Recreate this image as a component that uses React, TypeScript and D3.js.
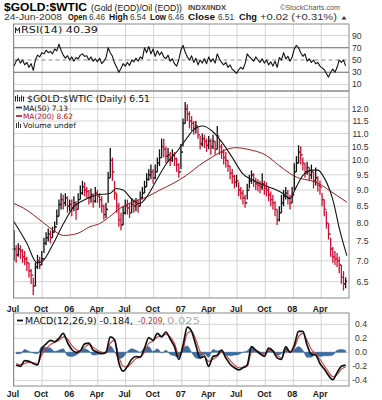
import React from "react";
import * as d3 from "d3";

// ---------- DATA ----------
// Weekly price bars, first week 1-Jul-2005, one value per week
const closes = [
  7.3, 7.15, 7.3, 7.25, 7.1,
  7.05, 6.95, 6.75, 6.65,
  6.4, 6.85, 7.0, 6.9, 7.05,
  7.45, 7.6, 7.7, 7.6,
  7.75, 7.9, 8.2, 8.55,
  8.7, 8.6, 8.75, 8.5, 8.55,
  8.45, 8.6, 8.4, 8.7,
  8.9, 9.1, 9.0, 8.95,
  8.75, 8.85, 8.65, 8.9, 8.8,
  8.7, 8.5, 8.25, 8.4,
  9.4, 10.0, 9.6, 8.9,
  8.5, 8.1, 7.95, 8.3, 8.5,
  8.45, 8.3, 8.55, 8.5,
  8.55, 8.5, 8.75, 8.9,
  9.1, 9.35, 9.5, 9.6, 9.4,
  9.6, 9.9, 10.1, 10.5,
  10.4, 10.15, 10.2, 10.0,
  10.2, 10.05, 9.85, 9.6, 10.3,
  11.4, 12.0, 11.8, 11.5,
  11.4, 11.2, 11.3, 10.95,
  10.6, 10.8, 10.7, 10.55, 10.7,
  10.5, 10.7, 10.4, 10.9,
  10.5, 10.3, 10.1, 10.0,
  9.8, 9.55, 9.45, 9.25, 9.3,
  9.0, 8.9, 8.75, 8.6,
  9.0, 9.3, 9.5, 9.3, 9.2,
  9.15, 9.1, 9.2, 9.05,
  9.0, 8.85, 8.7, 8.6,
  8.4, 8.1, 8.3, 8.6, 8.8,
  8.9, 8.75, 8.6, 8.85,
  9.6, 9.9, 10.3, 10.2,
  9.9, 9.6, 9.75, 9.5, 9.6,
  9.3, 9.4, 9.15, 9.1,
  8.7, 8.4, 8.0, 7.7,
  7.3, 7.1, 7.05, 7.0, 6.9,
  6.6, 6.45, 6.51,
];
const highs = [
  7.8, 7.4, 7.45, 7.4, 7.3,
  7.25, 7.1, 6.95, 6.8,
  6.6, 6.95, 7.15, 7.1, 7.25,
  7.6, 7.75, 7.85, 7.8,
  7.9, 8.05, 8.4, 8.7,
  8.9, 8.85, 8.9, 8.8, 8.7,
  8.7, 8.8, 8.65, 8.9,
  9.15, 9.3, 9.25, 9.1,
  9.0, 9.05, 8.9, 9.1, 9.0,
  8.9, 8.8, 8.55, 8.6,
  9.6, 10.45, 10.1, 9.3,
  8.9, 8.6, 8.3, 8.5, 8.7,
  8.7, 8.6, 8.75, 8.7,
  8.75, 8.7, 8.95, 9.1,
  9.3, 9.55, 9.7, 9.85, 9.7,
  9.85, 10.1, 10.4, 10.8,
  10.8, 10.5, 10.45, 10.3,
  10.4, 10.3, 10.1, 9.9, 10.6,
  11.6, 12.3, 12.2, 11.9,
  11.7, 11.5, 11.5, 11.25,
  10.9, 11.0, 10.95, 10.8, 10.9,
  10.8, 10.95, 10.7, 11.3,
  10.75, 10.6, 10.4, 10.3,
  10.0, 9.8, 9.7, 9.5, 9.5,
  9.25, 9.1, 9.0, 8.85,
  9.2, 9.5, 9.65, 9.55, 9.4,
  9.35, 9.3, 9.55, 9.3,
  9.25, 9.1, 8.95, 8.85,
  8.65, 8.4, 8.5, 8.85, 9.0,
  9.1, 9.0, 8.85, 9.1,
  9.9, 10.15, 10.55, 10.5,
  10.1, 9.9, 9.95, 9.75, 9.85,
  9.6, 9.75, 9.45, 9.3,
  8.9, 8.7, 8.35, 8.0,
  7.6, 7.35, 7.25, 7.2, 7.1,
  6.9, 6.75, 6.6,
];
const lows = [
  7.0, 6.95, 7.1, 7.05, 6.95,
  6.9, 6.75, 6.6, 6.45,
  6.2, 6.4, 6.8, 6.8, 6.9,
  7.2, 7.4, 7.5, 7.45,
  7.6, 7.75, 7.95, 8.2,
  8.4, 8.4, 8.5, 8.3, 8.35,
  8.2, 8.35, 8.1, 8.4,
  8.7, 8.85, 8.8, 8.75,
  8.55, 8.6, 8.45, 8.6, 8.6,
  8.45, 8.3, 8.1, 8.15,
  8.6, 9.4, 9.3, 8.7,
  8.3, 7.9, 7.8, 7.95, 8.25,
  8.25, 8.15, 8.3, 8.3,
  8.35, 8.3, 8.5, 8.7,
  8.9, 9.1, 9.3, 9.35, 9.2,
  9.35, 9.6, 9.8, 10.1,
  10.1, 9.9, 9.95, 9.8,
  9.95, 9.8, 9.6, 9.4, 9.7,
  10.5, 11.4, 11.5, 11.2,
  11.1, 10.95, 11.0, 10.8,
  10.4, 10.5, 10.45, 10.3, 10.4,
  10.2, 10.4, 10.2, 10.4,
  10.2, 10.05, 9.85, 9.75,
  9.6, 9.35, 9.2, 9.05, 9.1,
  8.8, 8.7, 8.55, 8.45,
  8.7, 9.05, 9.2, 9.1, 9.0,
  8.95, 8.9, 9.0, 8.85,
  8.8, 8.65, 8.5, 8.4,
  8.2, 7.95, 8.05, 8.3, 8.5,
  8.7, 8.55, 8.4, 8.6,
  9.0, 9.6, 9.9, 9.85,
  9.65, 9.4, 9.5, 9.3, 9.35,
  9.05, 9.15, 8.95, 8.85,
  8.5, 8.2, 7.85, 7.55,
  7.1, 6.95, 6.9, 6.85, 6.7,
  6.45, 6.3, 6.35,
];

// RSI(14), one value per week
const rsiValues = [
  40, 48, 52, 45, 50, 42, 46, 38, 44, 33,
  50, 58, 55, 62, 60, 66, 62, 64, 60, 68,
  65, 76, 66, 58, 53, 57, 50, 55, 48, 54,
  52, 58, 60, 56, 57, 50, 55, 48, 52, 47,
  53, 44, 48, 54, 70, 62, 56, 45, 38, 30,
  36, 44, 40, 46, 41, 50, 47, 53, 48, 55,
  52, 70, 62, 72, 60, 68, 56, 65, 58, 63,
  55, 52, 58, 48, 52, 44, 40, 50, 66, 74,
  63, 55, 50, 57, 46, 53, 42, 50, 45, 52,
  44, 55, 47, 52, 45, 60, 52, 46, 42, 46,
  38, 42, 35, 32, 28, 34, 38, 35, 44, 60,
  55, 52, 48, 55, 50, 46, 52, 45, 50, 42,
  47, 40, 48, 38, 54, 50, 62, 52, 56, 48,
  55, 68, 74, 70, 62, 56, 60, 48, 52, 46,
  50, 44, 46, 40, 37, 34, 28, 22, 30, 35,
  30, 38, 50, 46, 50, 40.39,
];

// Moving averages
const ma50Dates = [
  "2005-07-01", "2005-08-12", "2005-09-14", "2005-09-30", "2005-11-07", "2005-12-10",
  "2006-01-12", "2006-02-14", "2006-03-28", "2006-05-10", "2006-06-01", "2006-06-23",
  "2006-07-25", "2006-08-16", "2006-09-08", "2006-10-10", "2006-11-12", "2006-12-15",
  "2007-01-17", "2007-02-08", "2007-03-10", "2007-04-12", "2007-05-15", "2007-06-17",
  "2007-07-19", "2007-08-22", "2007-09-24", "2007-10-26", "2007-11-28", "2007-12-20",
  "2008-01-11", "2008-02-02", "2008-03-05", "2008-03-21", "2008-04-12", "2008-05-09",
  "2008-06-01", "2008-06-24",
];
const ma50Values = [
  8.04, 7.45, 6.95, 6.98, 7.45, 7.99,
  8.48, 8.68, 8.84, 8.89, 9.05, 9.0,
  8.68, 8.58, 8.78, 9.32, 9.89, 10.3,
  10.81, 11.14, 11.3, 11.08, 10.62, 10.07,
  9.54, 9.32, 9.16, 9.05, 8.89, 8.73,
  9.11, 9.49, 9.66, 9.66, 9.38, 8.7,
  7.8, 7.13,
];
const ma200Dates = [
  "2005-07-01", "2005-08-12", "2005-09-24", "2005-11-07", "2005-12-10", "2006-01-23",
  "2006-03-06", "2006-04-07", "2006-05-10", "2006-06-12", "2006-07-25", "2006-09-08",
  "2006-10-21", "2006-12-03", "2007-01-17", "2007-02-28", "2007-04-12", "2007-05-26",
  "2007-06-27", "2007-08-09", "2007-10-02", "2007-11-14", "2007-12-20", "2008-01-22",
  "2008-02-22", "2008-03-24", "2008-04-26", "2008-06-24",
];
const ma200Values = [
  8.58, 8.38, 8.09, 7.8, 7.66, 7.71,
  7.9, 7.99, 8.19, 8.43, 8.63, 8.78,
  9.0, 9.21, 9.49, 9.83, 10.13, 10.39,
  10.46, 10.39, 10.19, 9.83, 9.55, 9.38,
  9.32, 9.21, 9.0, 8.62,
];

// MACD(12,26,9), one value every two weeks
const macdValues = [
  -0.18, -0.2, -0.12, -0.13, -0.16, -0.18, 0.05, 0.12, 0.17, 0.15,
  0.2, 0.27, 0.14, 0.04, 0.0, 0.02, 0.12, 0.13, 0.03, 0.0,
  -0.02, 0.0, 0.22, 0.18, -0.15, -0.27, -0.2, -0.1, -0.06, -0.07,
  0.06, 0.21, 0.17, 0.27, 0.22, 0.29, 0.19, 0.08, -0.1, 0.1,
  0.36, 0.3, 0.1, -0.08, -0.06, -0.2, -0.06, -0.04, 0.03, -0.08,
  -0.17, -0.22, -0.25, -0.22, -0.18, 0.08, 0.03, -0.02, -0.06, 0.06,
  0.02, -0.08, -0.1, 0.08, 0.0, 0.1, 0.3, 0.3, 0.1, -0.03,
  -0.04, -0.16, -0.24, -0.33, -0.39, -0.29, -0.2, -0.184,
];
const signalValues = [
  -0.16, -0.18, -0.16, -0.14, -0.15, -0.16, -0.03, 0.05, 0.11, 0.14,
  0.17, 0.22, 0.19, 0.1, 0.04, 0.02, 0.07, 0.11, 0.07, 0.03,
  0.0, -0.01, 0.13, 0.17, -0.06, -0.2, -0.21, -0.15, -0.09, -0.07,
  0.0, 0.13, 0.16, 0.22, 0.23, 0.26, 0.22, 0.13, -0.03, 0.04,
  0.27, 0.3, 0.18, 0.01, -0.04, -0.13, -0.1, -0.06, 0.0, -0.04,
  -0.12, -0.18, -0.22, -0.22, -0.2, 0.0, 0.02, 0.0, -0.04, 0.02,
  0.02, -0.04, -0.08, 0.02, 0.0, 0.06, 0.22, 0.27, 0.17, 0.04,
  -0.02, -0.1, -0.19, -0.28, -0.35, -0.32, -0.24, -0.209,
];

const rsiTicks = [90, 70, 50, 30, 10];
const priceTicks = [12.0, 11.5, 11.0, 10.5, 10.0, 9.5, 9.0, 8.5, 8.0, 7.5, 7.0, 6.5];
const priceGrid = [12.5, ...priceTicks];
const macdTicks = [0.4, 0.2, 0.0, -0.2, -0.4];

const headerItems = [
  { x: 4, w: 58, text: "24-Jun-2008", bold: false },
  { x: 68, w: 19, text: "Open", bold: true },
  { x: 89, w: 16, text: "6.46", bold: false },
  { x: 109, w: 19, text: "High", bold: true },
  { x: 130, w: 16, text: "6.54", bold: false },
  { x: 150, w: 16, text: "Low", bold: true },
  { x: 168, w: 16, text: "6.46", bold: false },
  { x: 188, w: 27, text: "Close", bold: true },
  { x: 218, w: 16, text: "6.51", bold: false },
  { x: 239, w: 18, text: "Chg", bold: true },
  { x: 260, w: 77, text: "+0.02 (+0.31%)", bold: false },
];

const parse = d3.timeParse("%Y-%m-%d");

export default function App() {
  const W = 382;
  const H = 400;
  const L = 13.5;
  const R = 349;
  const rsiP = { top: 24, bottom: 91 };
  const priceP = { top: 91, bottom: 298 };
  const macdP = { top: 313, bottom: 386 };

  const x = d3
    .scaleTime()
    .domain([new Date(2005, 6, 1), new Date(2008, 6, 1)])
    .range([14, 349]);
  const yR = d3.scaleLinear().domain([0, 100]).range([90.6, 29.4]);
  const yP = d3.scaleLog().domain([6.5, 12]).range([281.7, 109]);
  const yM = d3.scaleLinear().domain([-0.4, 0.4]).range([380.3, 324.3]);

  const weekDates = closes.map((_, i) => new Date(2005, 6, 1 + 7 * i));
  const macdDates = macdValues.map((_, j) => new Date(2005, 6, 8 + 14 * j));
  const quarters = d3.timeMonth.every(3)!.range(new Date(2005, 6, 1), new Date(2008, 6, 1));

  const rsiPath = d3
    .line<number>()
    .x((_, i) => x(weekDates[i]))
    .y((d) => yR(d))(rsiValues)!;

  const ma50Path = d3
    .line<number>()
    .x((_, i) => x(parse(ma50Dates[i])!))
    .y((d) => yP(d))
    .curve(d3.curveMonotoneX)(ma50Values)!;
  const ma200Path = d3
    .line<number>()
    .x((_, i) => x(parse(ma200Dates[i])!))
    .y((d) => yP(d))
    .curve(d3.curveMonotoneX)(ma200Values)!;

  const macdPath = d3
    .line<number>()
    .x((_, j) => x(macdDates[j]))
    .y((d) => yM(d))
    .curve(d3.curveMonotoneX)(macdValues)!;
  const signalPath = d3
    .line<number>()
    .x((_, j) => x(macdDates[j]))
    .y((d) => yM(d))
    .curve(d3.curveMonotoneX)(signalValues)!;
  const histPath = d3
    .area<number>()
    .x((_, j) => x(macdDates[j]))
    .y0(yM(0))
    .y1((d, j) => yM(d - signalValues[j]))
    .curve(d3.curveMonotoneX)(macdValues)!;

  const sans = "'Liberation Sans', Arial, sans-serif";
  const verd = "'DejaVu Sans', Verdana, sans-serif";
  const grid = "#d4d4d4";
  const border = "#8a8a8a";
  const red = "#cc1133";

  const vGrid = (top: number, bottom: number) =>
    quarters.map((q, i) => (
      <line key={"v" + top + i} x1={x(q)} x2={x(q)} y1={top} y2={bottom} stroke={grid} strokeWidth={1} />
    ));

  const xLabels = (baseline: number) =>
    quarters.map((q, i) => {
      const m = q.getMonth();
      const isYear = m === 0;
      const label = isYear ? d3.timeFormat("%y")(q) : d3.timeFormat("%b")(q);
      return (
        <text
          key={"xl" + baseline + i}
          x={x(q) - 1}
          y={baseline}
          textAnchor="middle"
          fontFamily={sans}
          fontSize={isYear ? 9 : 8.5}
          fontWeight={isYear ? "bold" : 600}
          fill="#1a1a1a"
        >
          {label}
        </text>
      );
    });

  return (
    <svg
      width={W}
      height={H}
      viewBox={`0 0 ${W} ${H}`}
      style={{ position: "absolute", left: 0, top: 0, background: "#fff", display: "block" }}
    >
      <rect x={0} y={0} width={W} height={H} fill="#fff" />

      {/* ---------- header ---------- */}
      <text x={4} y={10.5} fontFamily={sans} fontSize={11.5} fontWeight="bold" fill="#000" textLength={83} lengthAdjust="spacingAndGlyphs">
        $GOLD:$WTIC
      </text>
      <text x={91} y={10.5} fontFamily={sans} fontSize={8.6} fill="#111" textLength={91} lengthAdjust="spacingAndGlyphs">
        (Gold (EOD)/Oil (EOD))
      </text>
      <text x={188} y={10} fontFamily={sans} fontSize={7.4} fontWeight="bold" fill="#444" textLength={38} lengthAdjust="spacingAndGlyphs">
        INDX/INDX
      </text>
      <text x={280} y={10} fontFamily={sans} fontSize={8} fill="#555" textLength={60} lengthAdjust="spacingAndGlyphs">
        ©StockCharts.com
      </text>
      {headerItems.map((h, i) => (
        <text
          key={"h" + i}
          x={h.x}
          y={20}
          fontFamily={sans}
          fontSize={8.3}
          fontWeight={h.bold ? "bold" : "normal"}
          fill={h.bold ? "#111" : "#333"}
          textLength={h.w}
          lengthAdjust="spacingAndGlyphs"
        >
          {h.text}
        </text>
      ))}
      <polygon points="341.5,19.5 346.5,19.5 344,16" fill="#333" />

      {/* ---------- RSI panel ---------- */}
      {vGrid(rsiP.top, rsiP.bottom)}
      {[90, 10].map((v) => (
        <line key={"rg" + v} x1={L} x2={R} y1={yR(v)} y2={yR(v)} stroke={grid} />
      ))}
      {[70, 30].map((v) => (
        <line key={"rd" + v} x1={L} x2={R} y1={yR(v)} y2={yR(v)} stroke="#666" strokeWidth={1} />
      ))}
      <line x1={L} x2={R} y1={yR(50)} y2={yR(50)} stroke="#888" strokeDasharray="4,3" />
      <path d={rsiPath} fill="none" stroke="#111" strokeWidth={1.1} strokeLinejoin="round" />
      <rect x={L} y={rsiP.top} width={R - L} height={rsiP.bottom - rsiP.top} fill="none" stroke={border} />
      {rsiTicks.map((v) => (
        <text key={"rt" + v} x={352} y={yR(v) + 3} fontFamily={sans} fontSize={8.6} fill="#333">
          {v}
        </text>
      ))}
      <rect x={14} y={26} width={70} height={9} fill="#fff" />
      <path d="M15.5,33 L15.5,27.5 L17.5,31 L19.5,27.5 L19.5,33" fill="none" stroke="#222" strokeWidth={1} />
      <text x={21} y={33} fontFamily={verd} fontSize={8.4} fill="#111" textLength={77} lengthAdjust="spacingAndGlyphs">
        RSI(14) 40.39
      </text>

      {/* ---------- price panel ---------- */}
      {vGrid(priceP.top, priceP.bottom)}
      {priceGrid.map((v) => (
        <line key={"pg" + v} x1={L} x2={R} y1={yP(v)} y2={yP(v)} stroke={grid} />
      ))}
      <g>
        {closes.map((c, i) => {
          const xi = x(weekDates[i]);
          const open = i === 0 ? c : closes[i - 1];
          const color = i > 0 && c < closes[i - 1] ? red : "#111";
          return (
            <g key={"b" + i} stroke={color} strokeWidth={1.3}>
              <line x1={xi} x2={xi} y1={yP(highs[i])} y2={yP(lows[i])} />
              <line x1={xi - 1.4} x2={xi} y1={yP(open)} y2={yP(open)} />
              <line x1={xi} x2={xi + 1.4} y1={yP(c)} y2={yP(c)} />
            </g>
          );
        })}
      </g>
      <path d={ma200Path} fill="none" stroke="#a31c1c" strokeWidth={1} />
      <path d={ma50Path} fill="none" stroke="#151515" strokeWidth={1.1} />
      <rect x={L} y={priceP.top} width={R - L} height={priceP.bottom - priceP.top} fill="none" stroke={border} />
      {priceTicks.map((v) => (
        <text key={"pt" + v} x={368.5} y={yP(v) + 3} textAnchor="end" fontFamily={sans} fontSize={8.6} fill="#333">
          {v.toFixed(1)}
        </text>
      ))}
      {/* legend */}
      <g>
        <path d="M15.5,101.5 L15.5,96 M17.5,101.5 L17.5,95 M19.5,101.5 L19.5,97 M21.5,101.5 L21.5,95.5 M23.5,101.5 L23.5,96.5" stroke="#222" strokeWidth={1} />
        <text x={27} y={101.5} fontFamily={verd} fontSize={8.6} fill="#111" textLength={123} lengthAdjust="spacingAndGlyphs">
          $GOLD:$WTIC (Daily) 6.51
        </text>
        <line x1={16} x2={22} y1={107.5} y2={107.5} stroke="#1a2a5a" strokeWidth={1.6} />
        <text x={23} y={110.5} fontFamily={verd} fontSize={7.4} fill="#111" textLength={45} lengthAdjust="spacingAndGlyphs">
          MA(50) 7.13
        </text>
        <line x1={16} x2={22} y1={116} y2={116} stroke="#b01020" strokeWidth={1.6} />
        <text x={23} y={119} fontFamily={verd} fontSize={7.4} fill="#b01020" textLength={50} lengthAdjust="spacingAndGlyphs">
          MA(200) 8.62
        </text>
        <path d="M16.5,128 L16.5,123 M18.5,128 L18.5,122 M20.5,128 L20.5,124" stroke="#333" strokeWidth={1} />
        <text x={23} y={128} fontFamily={verd} fontSize={7.4} fill="#111" textLength={53} lengthAdjust="spacingAndGlyphs">
          Volume undef
        </text>
      </g>

      {/* x labels under price */}
      {xLabels(311.5)}

      {/* ---------- MACD panel ---------- */}
      {vGrid(macdP.top, macdP.bottom)}
      {macdTicks.map((v) => (
        <line key={"mg" + v} x1={L} x2={R} y1={yM(v)} y2={yM(v)} stroke={grid} />
      ))}
      <path d={histPath} fill="#3a6ea5" stroke="#2b5a8c" strokeWidth={0.5} />
      <path d={signalPath} fill="none" stroke="#d04040" strokeWidth={1.1} />
      <path d={macdPath} fill="none" stroke="#111" strokeWidth={1.7} strokeLinejoin="round" />
      <rect x={L} y={macdP.top} width={R - L} height={macdP.bottom - macdP.top} fill="none" stroke={border} />
      {macdTicks.map((v) => (
        <text key={"mt" + v} x={367} y={yM(v) + 3} textAnchor="end" fontFamily={sans} fontSize={8.6} fill="#333">
          {v.toFixed(1)}
        </text>
      ))}
      <line x1={17} x2={23} y1={320.5} y2={320.5} stroke="#111" strokeWidth={1.8} />
      <text x={25} y={324} fontFamily={verd} fontSize={8.2} fill="#111" textLength={108} lengthAdjust="spacingAndGlyphs">
        MACD(12,26,9) -0.184,
      </text>
      <text x={138} y={324} fontFamily={verd} fontSize={8.2} fill="#c83030" textLength={27} lengthAdjust="spacingAndGlyphs">
        -0.209,
      </text>
      <text x={167} y={324} fontFamily={verd} fontSize={8.2} fill="#aaaaaa" textLength={33} lengthAdjust="spacingAndGlyphs">
        0.025
      </text>

      {/* x labels under MACD */}
      {xLabels(396.5)}
    </svg>
  );
}
